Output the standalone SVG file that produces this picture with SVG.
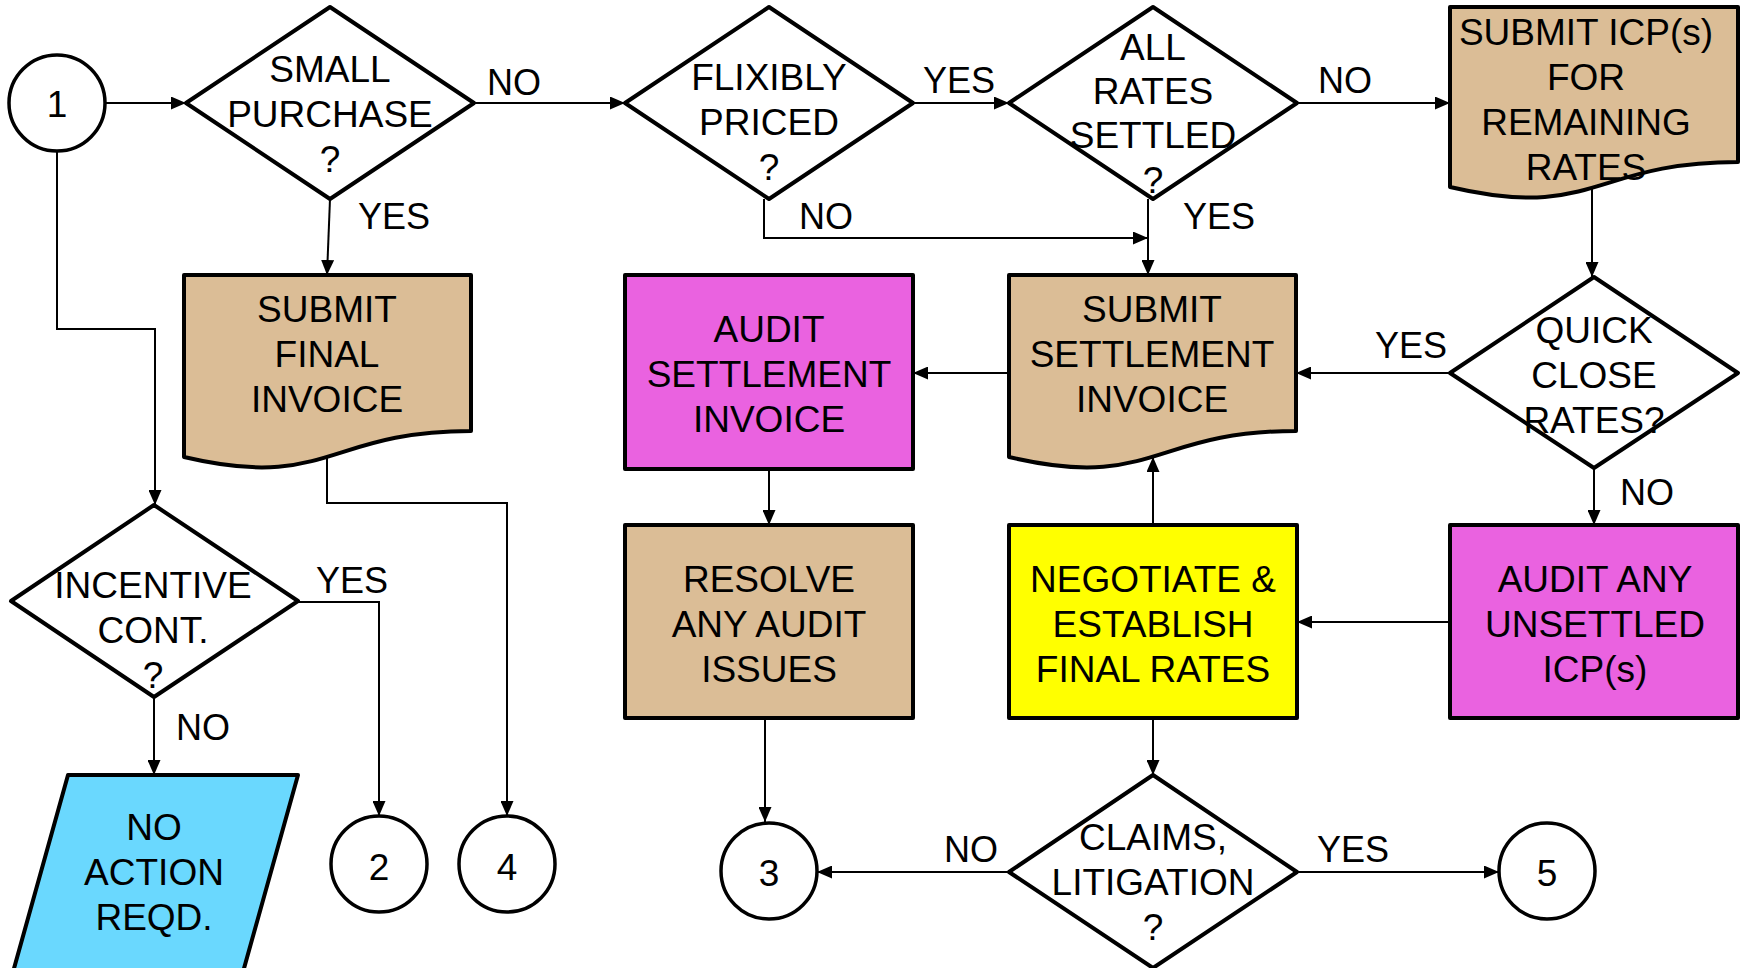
<svg xmlns="http://www.w3.org/2000/svg" width="1743" height="968" viewBox="0 0 1743 968">
<style>
text{font-family:"Liberation Sans",Arial,sans-serif;font-size:37px;fill:#000;text-anchor:middle}
.lbl{text-anchor:start;font-size:36px}
.shp{stroke:#000;stroke-width:4;stroke-linejoin:round}
.dia{fill:#fff}
.doc{fill:#DBBD96}
.mag{fill:#EA62E0}
.yel{fill:#FFFF00}
.cyan{fill:#6AD8FE}
.circ{fill:#fff;stroke:#000;stroke-width:3.5}
#connectors path{fill:none;stroke:#000;stroke-width:2;marker-end:url(#arr)}
</style>
<defs>
<marker id="arr" viewBox="0 0 15 13" refX="15" refY="6.5" markerWidth="15" markerHeight="13" markerUnits="userSpaceOnUse" orient="auto">
<path d="M0,0 L15,6.5 L0,13 Z" fill="#000"/>
</marker>
</defs>
<rect width="1743" height="968" fill="#fff"/>

<g id="connectors">
<path d="M105,103 H186"/>
<path d="M474,103 H625"/>
<path d="M913,103 H1009"/>
<path d="M1297,103 H1450"/>
<path d="M330,199 L327,275"/>
<path d="M764,199 V238 H1148"/>
<path d="M1148,199 V275"/>
<path d="M1592,187 V277"/>
<path d="M1450,373 H1296"/>
<path d="M1594,468 V525"/>
<path d="M1450,622 H1297"/>
<path d="M1153,525 V457"/>
<path d="M1009,373 H913"/>
<path d="M769,469 V525"/>
<path d="M765,713 V822"/>
<path d="M1153,718 V775"/>
<path d="M1009,872 H817"/>
<path d="M1297,872 H1499"/>
<path d="M57,151 V329 H155 V505"/>
<path d="M327,457 V503 H507 V816"/>
<path d="M298,602 H379 V816"/>
<path d="M154,697 V775"/>
</g>

<g id="labels">
<text class="lbl" x="487" y="95">NO</text>
<text class="lbl" x="358" y="229">YES</text>
<text class="lbl" x="923" y="93">YES</text>
<text class="lbl" x="799" y="229">NO</text>
<text class="lbl" x="1318" y="93">NO</text>
<text class="lbl" x="1183" y="229">YES</text>
<text class="lbl" x="1375" y="358">YES</text>
<text class="lbl" x="1620" y="505">NO</text>
<text class="lbl" x="316" y="593">YES</text>
<text class="lbl" x="176" y="740">NO</text>
<text class="lbl" x="944" y="862">NO</text>
<text class="lbl" x="1317" y="862">YES</text>
</g>

<g id="n1">
<circle class="circ" cx="57" cy="103" r="48"/>
<text x="57" y="117">1</text>
</g>

<g id="small-purchase">
<polygon class="shp dia" points="186,103 330,7 474,103 330,199"/>
<text x="330" y="82">SMALL</text>
<text x="330" y="127">PURCHASE</text>
<text x="330" y="172">?</text>
</g>

<g id="flexibly-priced">
<polygon class="shp dia" points="625,103 769,7 913,103 769,199"/>
<text x="769" y="90">FLIXIBLY</text>
<text x="769" y="135">PRICED</text>
<text x="769" y="180">?</text>
</g>

<g id="all-rates-settled">
<polygon class="shp dia" points="1009,103 1153,7 1297,103 1153,199"/>
<text x="1153" y="60">ALL</text>
<text x="1153" y="104">RATES</text>
<text x="1153" y="148">SETTLED</text>
<text x="1153" y="193">?</text>
</g>

<g id="submit-icp">
<path class="shp doc" d="M1450,7 H1738 V162 C1594,162 1594,221 1450,187 Z"/>
<text x="1586" y="45">SUBMIT ICP(s)</text>
<text x="1586" y="90">FOR</text>
<text x="1586" y="135">REMAINING</text>
<text x="1586" y="180">RATES</text>
</g>

<g id="submit-final-invoice">
<path class="shp doc" d="M184,275 H471 V431 C327.5,431 327.5,491 184,457 Z"/>
<text x="327" y="322">SUBMIT</text>
<text x="327" y="367">FINAL</text>
<text x="327" y="412">INVOICE</text>
</g>

<g id="audit-settlement-invoice">
<rect class="shp mag" x="625" y="275" width="288" height="194"/>
<text x="769" y="342">AUDIT</text>
<text x="769" y="387">SETTLEMENT</text>
<text x="769" y="432">INVOICE</text>
</g>

<g id="submit-settlement-invoice">
<path class="shp doc" d="M1009,275 H1296 V431 C1152.5,431 1152.5,491 1009,457 Z"/>
<text x="1152" y="322">SUBMIT</text>
<text x="1152" y="367">SETTLEMENT</text>
<text x="1152" y="412">INVOICE</text>
</g>

<g id="quick-close">
<polygon class="shp dia" points="1450,373 1594,277 1738,373 1594,468"/>
<text x="1594" y="343">QUICK</text>
<text x="1594" y="388">CLOSE</text>
<text x="1594" y="433">RATES?</text>
</g>

<g id="incentive-cont">
<polygon class="shp dia" points="11,601 154,505 298,601 154,697"/>
<text x="153" y="598">INCENTIVE</text>
<text x="153" y="643">CONT.</text>
<text x="153" y="688">?</text>
</g>

<g id="resolve-audit-issues">
<rect class="shp doc" x="625" y="525" width="288" height="193"/>
<text x="769" y="592">RESOLVE</text>
<text x="769" y="637">ANY AUDIT</text>
<text x="769" y="682">ISSUES</text>
</g>

<g id="negotiate-rates">
<rect class="shp yel" x="1009" y="525" width="288" height="193"/>
<text x="1153" y="592">NEGOTIATE &amp;</text>
<text x="1153" y="637">ESTABLISH</text>
<text x="1153" y="682">FINAL RATES</text>
</g>

<g id="audit-unsettled-icp">
<rect class="shp mag" x="1450" y="525" width="288" height="193"/>
<text x="1595" y="592">AUDIT ANY</text>
<text x="1595" y="637">UNSETTLED</text>
<text x="1595" y="682">ICP(s)</text>
</g>

<g id="no-action">
<polygon class="shp cyan" points="68,775 298,775 243,972 13,972"/>
<text x="154" y="840">NO</text>
<text x="154" y="885">ACTION</text>
<text x="154" y="930">REQD.</text>
</g>

<g id="claims-litigation">
<polygon class="shp dia" points="1009,872 1153,775 1297,872 1153,968"/>
<text x="1153" y="850">CLAIMS,</text>
<text x="1153" y="895">LITIGATION</text>
<text x="1153" y="940">?</text>
</g>

<g id="n2">
<circle class="circ" cx="379" cy="864" r="48"/>
<text x="379" y="880">2</text>
</g>
<g id="n4">
<circle class="circ" cx="507" cy="864" r="48"/>
<text x="507" y="880">4</text>
</g>
<g id="n3">
<circle class="circ" cx="769" cy="871" r="48"/>
<text x="769" y="886">3</text>
</g>
<g id="n5">
<circle class="circ" cx="1547" cy="871" r="48"/>
<text x="1547" y="886">5</text>
</g>
</svg>
